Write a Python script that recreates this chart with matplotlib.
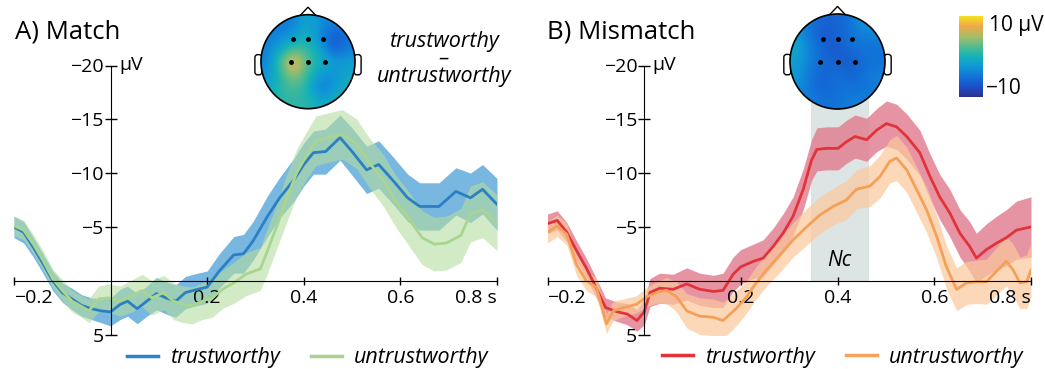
import numpy as np
import matplotlib
matplotlib.use("Agg")
import matplotlib.pyplot as plt
from matplotlib.colors import LinearSegmentedColormap, Normalize
from matplotlib.patches import Circle, Polygon, FancyBboxPatch
from matplotlib.lines import Line2D
from matplotlib.cm import ScalarMappable

plt.rcParams["font.family"] = ["Open Sans", "DejaVu Sans"]

# ---- data, time in s, amplitude in µV ----
# A) Match
match_trust_t = [-0.2, -0.18, -0.16, -0.14, -0.12, -0.10, -0.08, -0.06, -0.04, -0.02,
                 0.0, 0.02, 0.035, 0.055, 0.075, 0.095, 0.115, 0.135, 0.155, 0.18, 0.2,
                 0.225, 0.255, 0.275, 0.295, 0.325, 0.35,
                 0.38, 0.4, 0.42, 0.445, 0.475, 0.5, 0.53,
                 0.555, 0.585, 0.615, 0.64, 0.68, 0.715, 0.745, 0.77, 0.8]
match_trust = [-5.0, -4.5, -3.1, -1.6, 0.0, 1.1, 1.7, 2.3, 2.6, 2.8,
               2.9, 2.2, 1.9, 2.6, 1.9, 1.2, 1.6, 1.9, 1.1, 0.8, 0.6,
               -0.9, -2.4, -2.5, -3.7, -6.0, -7.7,
               -9.4, -10.8, -11.9, -12.0, -13.3, -12.0, -10.3,
               -10.8, -9.3, -7.7, -6.9, -6.9, -8.3, -7.7, -8.5, -7.1]
match_trust_err = [1.0, 1.0, 0.9, 0.9, 0.9, 0.9, 1.0, 1.0, 1.0, 1.1,
                   1.3, 1.4, 1.4, 1.4, 1.4, 1.5, 1.5, 1.5, 1.5, 1.5, 1.5,
                   1.6, 1.7, 1.8, 1.8, 1.9, 1.9,
                   2.0, 2.0, 2.0, 2.1, 2.1, 2.2, 2.2,
                   2.2, 2.2, 2.2, 2.2, 2.2, 2.2, 2.3, 2.3, 2.4]

match_untr_t = [-0.2, -0.18, -0.16, -0.14, -0.12, -0.10, -0.08, -0.06, -0.045, -0.025, -0.005,
                0.02, 0.045, 0.065, 0.085, 0.11, 0.13, 0.15, 0.17, 0.19, 0.21,
                0.235, 0.255, 0.28, 0.31, 0.325, 0.345, 0.365, 0.385,
                0.405, 0.425, 0.46, 0.48, 0.51, 0.535, 0.565,
                0.59, 0.62, 0.645, 0.67, 0.695, 0.725, 0.745, 0.77, 0.8]
match_untr = [-5.1, -4.7, -3.4, -1.9, -0.2, 0.9, 1.9, 2.4, 2.8, 1.7, 1.6,
              1.9, 1.4, 0.9, 1.6, 1.1, 1.9, 2.2, 2.3, 1.9, 1.6,
              0.7, 0.2, -0.6, -1.1, -2.8, -5.2, -7.7, -10.0,
              -11.6, -13.0, -13.4, -13.6, -12.7, -11.0, -9.3,
              -7.4, -5.6, -4.0, -3.4, -3.5, -4.2, -6.2, -6.6, -5.4]
match_untr_err = [0.9, 0.9, 0.9, 0.9, 0.9, 1.0, 1.0, 1.0, 1.1, 1.2, 1.3,
                  1.4, 1.5, 1.5, 1.6, 1.6, 1.7, 1.7, 1.7, 1.7, 1.8,
                  1.8, 1.9, 2.0, 2.0, 2.1, 2.1, 2.2, 2.2,
                  2.2, 2.3, 2.3, 2.3, 2.3, 2.3, 2.4,
                  2.4, 2.5, 2.5, 2.5, 2.5, 2.5, 2.6, 2.6, 2.6]

# B) Mismatch
mism_trust_t = [-0.2, -0.18, -0.16, -0.14, -0.12, -0.10, -0.08, -0.055, -0.035, -0.015, 0.0,
                0.012, 0.032, 0.06, 0.088, 0.115, 0.143, 0.163, 0.184, 0.2,
                0.226, 0.246, 0.267, 0.287, 0.308, 0.329, 0.346, 0.357,
                0.377, 0.401, 0.418, 0.436, 0.46, 0.481, 0.501, 0.522, 0.543,
                0.57, 0.591, 0.611, 0.632, 0.653, 0.673, 0.687, 0.708, 0.729, 0.749, 0.77, 0.8]
mism_trust = [-5.3, -5.6, -4.5, -2.8, -1.2, 0.6, 2.5, 2.9, 3.1, 3.7, 2.9,
              1.1, 0.7, 0.8, 0.3, 0.8, 1.0, 0.9, -0.6, -1.3,
              -1.8, -2.1, -3.2, -4.4, -6.0, -8.5, -11.2, -12.2,
              -12.3, -12.3, -12.9, -13.4, -13.1, -14.0, -14.6, -14.3, -13.4,
              -11.9, -9.7, -7.8, -6.3, -4.4, -3.2, -2.1, -2.9, -3.5, -4.0, -4.7, -5.0]
mism_trust_err = [0.9, 0.9, 0.9, 0.9, 0.9, 0.9, 0.9, 0.9, 1.0, 1.0, 1.2,
                  1.3, 1.4, 1.4, 1.5, 1.5, 1.5, 1.6, 1.6, 1.6,
                  1.6, 1.7, 1.7, 1.8, 1.8, 1.9, 1.9, 2.0,
                  2.0, 2.0, 2.0, 2.0, 2.0, 2.0, 2.1, 2.1, 2.1,
                  2.1, 2.1, 2.1, 2.2, 2.2, 2.3, 2.3, 2.4, 2.5, 2.6, 2.7, 2.8]

mism_untr_t = [-0.2, -0.18, -0.16, -0.14, -0.12, -0.099, -0.078, -0.064, -0.043, -0.016,
               0.005, 0.026, 0.046, 0.067, 0.088, 0.115, 0.143, 0.163, 0.19,
               0.21, 0.23, 0.253, 0.281, 0.308, 0.336, 0.363, 0.391,
               0.418, 0.439, 0.467, 0.488, 0.508, 0.522, 0.543, 0.563, 0.584,
               0.605, 0.625, 0.646, 0.667, 0.687, 0.708, 0.729, 0.749, 0.763, 0.777, 0.791, 0.8]
mism_untr = [-4.5, -5.1, -4.3, -1.5, 0.0, 0.6, 4.0, 2.8, 2.5, 2.2,
             1.5, 1.1, 0.9, 1.5, 2.8, 3.3, 3.4, 3.7, 2.6,
             1.6, 0.3, -1.0, -2.4, -3.8, -5.0, -6.1, -6.9,
             -7.5, -8.5, -8.8, -9.7, -11.1, -11.4, -10.3, -8.5, -6.6,
             -4.1, -1.3, 0.8, 0.2, 0.1, 0.1, -0.9, -1.8, -1.0, 0.2, 0.1, -1.0]
mism_untr_err = [1.0, 1.0, 1.0, 1.0, 0.9, 0.9, 0.9, 0.9, 0.8, 0.8,
                 0.9, 1.0, 1.2, 1.4, 1.6, 1.7, 1.7, 1.7, 1.6,
                 1.5, 1.5, 1.5, 1.6, 1.6, 1.7, 1.7, 1.7,
                 1.8, 1.8, 1.9, 2.0, 2.0, 2.1, 2.1, 2.1, 2.1,
                 2.0, 2.0, 2.0, 2.0, 2.0, 2.1, 2.2, 2.3, 2.4, 2.4, 2.5, 2.5]

nc_window = [0.344, 0.464]
nc_top = -17

# topographies (µV, rows top->bottom, cols left->right)
topo_match = [[-4, -5, -4, -1, -3, -4, -3],
              [-4, -4, -2, 0, -4, -7, -5],
              [-4, -1, 2, 1, -2, -7, -4],
              [-4, 3, 9, 2, 0, -2, -2],
              [-3, 1, 5, 1, -3, -3, -1],
              [-1, 1, 2, 0, -5, -2, 0],
              [0, 1, 1, 1, -1, 0, 1]]
topo_mismatch = [[-3, -5, -6, -6, -5, -2, -3],
                 [-2, -5, -7, -6, -5, -4, -4],
                 [-1, -4, -6, -7, -5, -5, -5],
                 [-2, -4, -6, -6, -7, -5, -5],
                 [-2, -5, -6, -5, -6, -5, -4],
                 [-3, -5, -6, -5, -5, -5, -4],
                 [-4, -4, -5, -5, -4, -4, -4]]
electrode_x = [-0.31, 0.0, 0.31, -0.37, 0.0, 0.37]
electrode_y = [0.48, 0.48, 0.48, 0.0, 0.0, 0.0]

ytick_vals = [-20, -15, -10, -5, 5]
ytick_labels = ["\u221220", "\u221215", "\u221210", "\u22125", "5"]
xtick_vals = [-0.2, 0.2, 0.4, 0.6, 0.8]
xtick_labels = ["\u22120.2", "0.2", "0.4", "0.6", "0.8 s"]

cmap = LinearSegmentedColormap.from_list(
    "parulaish", ["#2c2f8f", "#1c4fc6", "#1272d9", "#0f98d6", "#14b2b8",
                  "#54bb8e", "#a9bd67", "#f0a84a", "#f6e11f"])

W, H = 1045, 369
fig = plt.figure(figsize=(W / 100, H / 100), dpi=100)


def px_axes(x0, y0, x1, y1):
    return fig.add_axes([x0 / W, 1 - y1 / H, (x1 - x0) / W, (y1 - y0) / H])


def erp_axes(ax):
    ax.set_xlim(-0.2, 0.8)
    ax.set_ylim(5, -20)
    ax.patch.set_alpha(0)
    ax.spines["top"].set_visible(False)
    ax.spines["right"].set_visible(False)
    ax.spines["left"].set_position(("data", 0))
    ax.spines["bottom"].set_position(("data", 0))
    ax.spines["left"].set_bounds(-20, 5)
    ax.set_yticks(ytick_vals)
    ax.set_yticklabels(ytick_labels)
    ax.set_xticks(xtick_vals)
    ax.set_xticklabels(xtick_labels)
    ax.tick_params(axis="y", direction="inout", length=8, width=1, labelsize=14, pad=1)
    ax.tick_params(axis="x", direction="inout", length=6, width=1, labelsize=14, pad=3)
    xl = ax.get_xticklabels()
    xl[0].set_ha("left")
    xl[-1].set_ha("right")
    ax.annotate("\u00b5V", xy=(0, -20), xytext=(6, 0), textcoords="offset points",
                va="center", ha="left", fontsize=14)


def draw_head(cx, cy, r, grid):
    ax = px_axes(cx - 1.3 * r, cy - 1.3 * r, cx + 1.3 * r, cy + 1.3 * r)
    ax.axis("off")
    im = ax.imshow(np.array(grid), cmap=cmap, vmin=-10, vmax=10, extent=[-1, 1, -1, 1],
                   interpolation="bicubic", zorder=2)
    im.set_clip_path(Circle((0, 0), 1, transform=ax.transData))
    ax.add_patch(Polygon([[-0.18, 0.97], [0, 1.16], [0.18, 0.97]], closed=True,
                         fc="white", ec="black", lw=1, zorder=1))
    ax.add_patch(FancyBboxPatch((-1.13, -0.28), 0.15, 0.43, boxstyle="round,pad=0,rounding_size=0.06",
                                fc="white", ec="black", lw=1, zorder=1))
    ax.add_patch(FancyBboxPatch((0.98, -0.28), 0.15, 0.43, boxstyle="round,pad=0,rounding_size=0.06",
                                fc="white", ec="black", lw=1, zorder=1))
    ax.add_patch(Circle((0, 0), 1, fc="none", ec="black", lw=1.2, zorder=3))
    ax.plot(electrode_x, electrode_y, "o", color="black", ms=2.5, zorder=4)
    ax.set_xlim(-1.3, 1.3)
    ax.set_ylim(-1.3, 1.3)


def band(ax, t, m, e, band_c, alpha):
    t, m, e = np.array(t), np.array(m), np.array(e)
    ax.fill_between(t, m - e, m + e, color=band_c, alpha=alpha, lw=0)


def legend(ax, colors, x_px, y_px):
    ax.legend(handles=[Line2D([], [], color=c, lw=2.5) for c in colors],
              labels=["trustworthy", "untrustworthy"], ncol=2, frameon=False,
              prop={"style": "italic", "size": 15.5}, loc="center left",
              bbox_to_anchor=(x_px / W, 1 - y_px / H), bbox_transform=fig.transFigure,
              borderpad=0, borderaxespad=0, handlelength=1.45, handletextpad=0.55,
              columnspacing=1.45)


# ---- A) Match ----
axA = px_axes(14, 65.5, 497, 334.5)
erp_axes(axA)
band(axA, match_trust_t, match_trust, match_trust_err, "#4a9fd6", 0.75)
band(axA, match_untr_t, match_untr, match_untr_err, "#b5dca0", 0.6)
axA.plot(match_trust_t, match_trust, color="#2a80c0", lw=2)
axA.plot(match_untr_t, match_untr, color="#a8d690", lw=2)
legend(axA, ["#2a86c6", "#a6d48e"], 127, 358)

# ---- B) Mismatch ----
axB = px_axes(547.5, 65.5, 1031, 334.5)
erp_axes(axB)
axB.fill_between(nc_window, 0, nc_top, color="#dde4e4", lw=0, zorder=0)
band(axB, mism_trust_t, mism_trust, mism_trust_err, "#e07a8c", 0.8)
band(axB, mism_untr_t, mism_untr, mism_untr_err, "#fbc89c", 0.7)
axB.plot(mism_trust_t, mism_trust, color="#e2333a", lw=2)
axB.plot(mism_untr_t, mism_untr, color="#f5a057", lw=2)
axB.text(np.mean(nc_window), -1.9, "Nc", style="italic", fontsize=15, ha="center", va="center")
legend(axB, ["#e2333a", "#f6a35c"], 662, 357)

# ---- titles / annotations ----
fig.text(15 / W, 1 - 32 / H, "A) Match", fontsize=18.5, ha="left", va="center")
fig.text(547 / W, 1 - 32 / H, "B) Mismatch", fontsize=18.5, ha="left", va="center")
fig.text(444 / W, 1 - 59 / H, "trustworthy\n\u2013\nuntrustworthy", style="italic", fontsize=15.5,
         ha="center", va="center", multialignment="center", linespacing=0.78)

# ---- topographies + colour scale ----
draw_head(308, 61.7, 47, topo_match)
draw_head(837.5, 61.5, 47.5, topo_mismatch)

cax = px_axes(959, 16, 983, 97)
cb = fig.colorbar(ScalarMappable(norm=Normalize(-10, 10), cmap=cmap), cax=cax, ticks=[])
cb.outline.set_visible(False)
fig.text(989 / W, 1 - 25 / H, "10 \u00b5V", fontsize=15, ha="left", va="center")
fig.text(986 / W, 1 - 88 / H, "\u221210", fontsize=15, ha="left", va="center")

fig.savefig("out.png", dpi=100)
